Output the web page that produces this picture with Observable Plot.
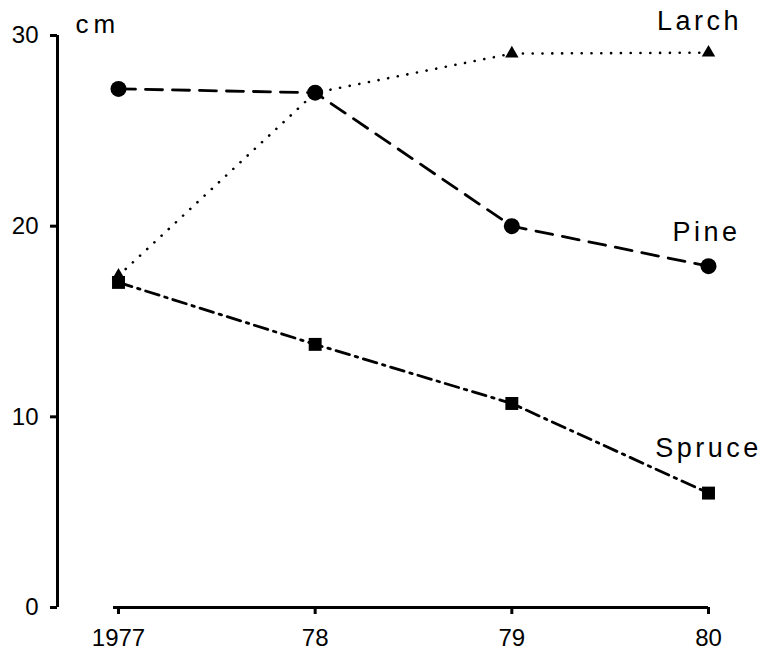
<!DOCTYPE html>
<html>
<head>
<meta charset="utf-8">
<script src="https://cdn.jsdelivr.net/npm/d3@7"></script>
<script src="https://cdn.jsdelivr.net/npm/@observablehq/plot@0.6"></script>
<style>
  html, body { margin: 0; padding: 0; background: #fff; }
  #chart { width: 762px; height: 650px; }
</style>
</head>
<body>
<div id="chart"></div>
<script>
const years = [1977, 1978, 1979, 1980];
const xTickLabels = ["1977", "78", "79", "80"];
const yTicks = [0, 10, 20, 30];
const larch = [17.4, 27.0, 29.05, 29.1];
const pine = [27.2, 27.0, 20.0, 17.9];
const spruce = [17.05, 13.8, 10.7, 6.0];
const seriesNames = ["Larch", "Pine", "Spruce"];
const yUnit = "cm";

const toRows = (vals) => years.map((y, i) => ({year: y, value: vals[i]}));
const larchRows = toRows(larch);
const pineRows = toRows(pine);
const spruceRows = toRows(spruce);
const last = (rows, name) => [{...rows[rows.length - 1], name}];

const lw = 2.8;
const chart = Plot.plot({
  width: 762,
  height: 650,
  marginTop: 35,
  marginBottom: 43,
  marginLeft: 57,
  marginRight: 54,
  style: {fontFamily: "'Liberation Sans', Arial, sans-serif", fontSize: "24px", background: "#fff", color: "#000"},
  x: {domain: [years[0], years[years.length - 1]], insetLeft: 61},
  y: {domain: [0, 30]},
  marks: [
    // axis lines
    Plot.ruleX([years[0]], {y1: 0, y2: 30, dx: -61, stroke: "#000", strokeWidth: 3}),
    Plot.ruleY([0], {x1: years[0], x2: years[years.length - 1], insetLeft: -5, stroke: "#000", strokeWidth: 3}),
    Plot.axisY({ticks: yTicks, tickSize: 7, tickPadding: 12, label: null, strokeWidth: 3}),
    Plot.axisX({ticks: years, tickFormat: d => xTickLabels[years.indexOf(d)], tickSize: 7, tickPadding: 14, label: null, strokeWidth: 3}),
    Plot.text([yUnit], {text: d => d, frameAnchor: "top-left", dx: 18, dy: -11, textAnchor: "start", lineAnchor: "middle", fontSize: 26}),
    // Larch: dotted, triangles
    Plot.line(larchRows, {x: "year", y: "value", stroke: "#000", strokeWidth: 2.6, strokeDasharray: "0.1 9.7", strokeLinecap: "round"}),
    Plot.dot(larchRows, {x: "year", y: "value", symbol: "triangle", r: 5, fill: "#000", stroke: "none"}),
    // Pine: dashed, circles
    Plot.line(pineRows, {x: "year", y: "value", stroke: "#000", strokeWidth: lw, strokeDasharray: "17 10"}),
    Plot.dot(pineRows, {x: "year", y: "value", symbol: "circle", r: 8, fill: "#000", stroke: "none"}),
    // Spruce: dash-dot, squares
    Plot.line(spruceRows, {x: "year", y: "value", stroke: "#000", strokeWidth: lw, strokeDasharray: "14 6 2.5 6"}),
    Plot.dot(spruceRows, {x: "year", y: "value", symbol: "square", r: 7.3, fill: "#000", stroke: "none"}),
    // series labels
    Plot.text(last(larchRows, seriesNames[0]), {x: "year", y: "value", text: "name", dx: -9, dy: -23, lineAnchor: "bottom", textAnchor: "middle", fontSize: 27}),
    Plot.text(last(pineRows, seriesNames[1]), {x: "year", y: "value", text: "name", dx: -2, dy: -25, lineAnchor: "bottom", textAnchor: "middle", fontSize: 27}),
    Plot.text(last(spruceRows, seriesNames[2]), {x: "year", y: "value", text: "name", dx: 0, dy: -36, lineAnchor: "bottom", textAnchor: "middle", fontSize: 27})
  ]
});
document.getElementById("chart").appendChild(chart);
const textGroups = d3.select(chart).selectAll("g[aria-label='text']");
textGroups.each(function(d, i) {
  d3.select(this).selectAll("text").style("letter-spacing", i === 0 ? "5px" : "3.5px");
});
</script>
</body>
</html>
